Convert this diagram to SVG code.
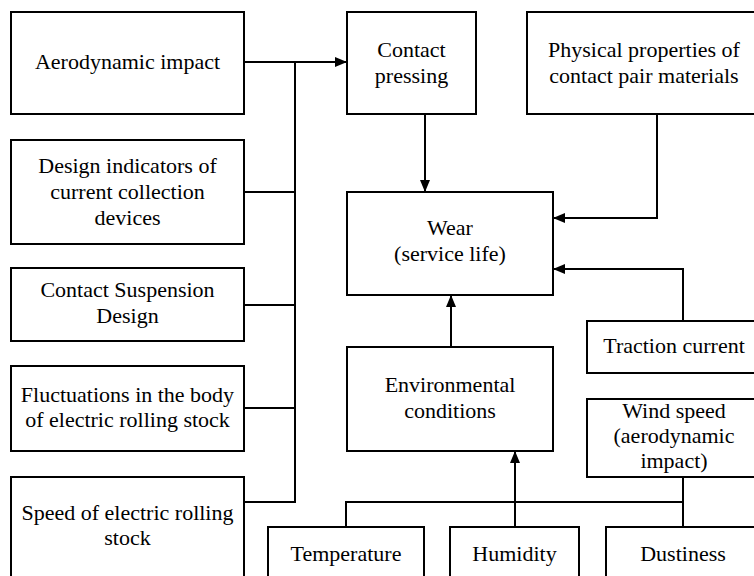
<svg xmlns="http://www.w3.org/2000/svg" width="754" height="576" viewBox="0 0 754 576">
<defs>
<marker id="arr" markerUnits="userSpaceOnUse" markerWidth="12" markerHeight="10" refX="12" refY="5" orient="auto">
<path d="M0,0 L12,5 L0,10 z" fill="#000"/>
</marker>
</defs>
<rect width="754" height="576" fill="#fff"/>
<g id="connectors" fill="none" stroke="#000" stroke-width="2">
<line x1="244" y1="62" x2="347" y2="62" marker-end="url(#arr)"/>
<line x1="295" y1="62" x2="295" y2="503"/>
<line x1="244" y1="192" x2="295" y2="192"/>
<line x1="244" y1="305" x2="295" y2="305"/>
<line x1="244" y1="408" x2="295" y2="408"/>
<line x1="244" y1="502" x2="296" y2="502"/>
<line x1="425" y1="114" x2="425" y2="192" marker-end="url(#arr)"/>
<polyline points="657,114 657,218 553,218" marker-end="url(#arr)"/>
<polyline points="683,321 683,269 553,269" marker-end="url(#arr)"/>
<line x1="451" y1="347" x2="451" y2="295" marker-end="url(#arr)"/>
<line x1="515" y1="527" x2="515" y2="451" marker-end="url(#arr)"/>
<polyline points="346,527 346,502 683,502"/>
<line x1="683" y1="477" x2="683" y2="527"/>
</g>
<g id="boxes" fill="#fff" stroke="#000" stroke-width="2">
<rect id="box-aerodynamic" x="11" y="12" width="233" height="102"/>
<rect id="box-design-indicators" x="11" y="140" width="233" height="104"/>
<rect id="box-suspension" x="11" y="268" width="233" height="73"/>
<rect id="box-fluctuations" x="11" y="366" width="233" height="85"/>
<rect id="box-speed" x="11" y="477" width="233" height="130"/>
<rect id="box-contact-pressing" x="347" y="12" width="129" height="102"/>
<rect id="box-physical" x="527" y="12" width="250" height="102"/>
<rect id="box-wear" x="347" y="192" width="206" height="103"/>
<rect id="box-environmental" x="347" y="347" width="206" height="104"/>
<rect id="box-traction" x="587" y="321" width="190" height="52"/>
<rect id="box-wind" x="587" y="399" width="190" height="78"/>
<rect id="box-temperature" x="268" y="527" width="156" height="80"/>
<rect id="box-humidity" x="450" y="527" width="129" height="80"/>
<rect id="box-dustiness" x="606" y="527" width="170" height="80"/>
</g>
<g id="labels" font-family="Liberation Serif" font-size="22" fill="#000" text-anchor="middle">
<g id="aerodynamic"><text x="127.5" y="69">Aerodynamic impact</text></g>
<g id="design-indicators"><text x="127.5" y="173">Design indicators of</text><text x="127.5" y="199">current collection</text><text x="127.5" y="225">devices</text></g>
<g id="suspension"><text x="127.5" y="297">Contact Suspension</text><text x="127.5" y="323">Design</text></g>
<g id="fluctuations"><text x="127.5" y="402">Fluctuations in the body</text><text x="127.5" y="427">of electric rolling stock</text></g>
<g id="speed"><text x="127.5" y="520">Speed of electric rolling</text><text x="127.5" y="545">stock</text></g>
<g id="contact-pressing"><text x="411.5" y="57">Contact</text><text x="411.5" y="83">pressing</text></g>
<g id="physical"><text x="644" y="57">Physical properties of</text><text x="644" y="83">contact pair materials</text></g>
<g id="wear"><text x="450" y="235">Wear</text><text x="450" y="261">(service life)</text></g>
<g id="environmental"><text x="450" y="392">Environmental</text><text x="450" y="418">conditions</text></g>
<g id="traction"><text x="674" y="353">Traction current</text></g>
<g id="wind"><text x="674" y="418">Wind speed</text><text x="674" y="443">(aerodynamic</text><text x="674" y="468">impact)</text></g>
<g id="temperature"><text x="346" y="561">Temperature</text></g>
<g id="humidity"><text x="514.5" y="561">Humidity</text></g>
<g id="dustiness"><text x="683" y="561">Dustiness</text></g>
</g>
</svg>
